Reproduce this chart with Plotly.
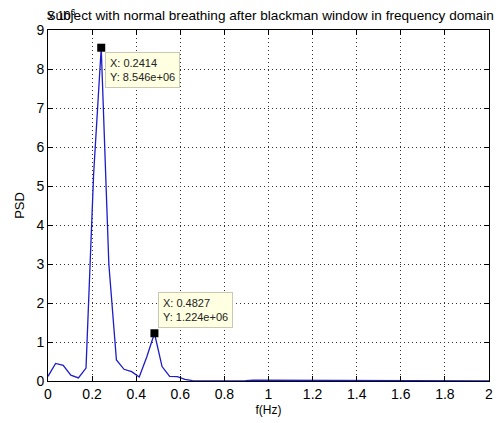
import plotly.graph_objects as go

# frequency axis: bins of width 1/29 Hz from 0 to 2 Hz
n_bins = 59
bin_width = 1 / 29
freq = [k * bin_width for k in range(n_bins)]

# PSD values (units of 1e6)
psd_millions = [
    0.12, 0.45, 0.40, 0.15, 0.08, 0.33, 5.30, 8.546, 3.00, 0.54,
    0.30, 0.24, 0.10, 0.62, 1.224, 0.37, 0.12, 0.11, 0.04, 0.012,
    0.005, 0.004, 0.004, 0.004, 0.004, 0.004, 0.006, 0.022, 0.022, 0.005,
    0.005, 0.022, 0.022, 0.005, 0.004, 0.004, 0.004, 0.004, 0.004, 0.004,
    0.004, 0.004, 0.004, 0.004, 0.004, 0.004, 0.004, 0.004, 0.004, 0.004,
    0.004, 0.004, 0.004, 0.004, 0.004, 0.004, 0.004, 0.004, 0.004,
]

# data tips
tip_x = [0.2414, 0.4827]
tip_y = [8.546, 1.224]
tip_labels = ["X: 0.2414<br>Y: 8.546e+06", "X: 0.4827<br>Y: 1.224e+06"]

x_ticks = [0, 0.2, 0.4, 0.6, 0.8, 1, 1.2, 1.4, 1.6, 1.8, 2]
x_tick_text = ["0", "0.2", "0.4", "0.6", "0.8", "1", "1.2", "1.4", "1.6", "1.8", "2"]
y_ticks = [0, 1, 2, 3, 4, 5, 6, 7, 8, 9]

FONT = "Liberation Sans, Arial, sans-serif"

fig = go.Figure()
fig.add_trace(go.Scatter(
    x=freq, y=psd_millions, mode="lines",
    line=dict(color="#1c1cc8", width=1.3),
    showlegend=False, hoverinfo="skip",
))
fig.add_trace(go.Scatter(
    x=tip_x, y=tip_y, mode="markers",
    marker=dict(symbol="square", size=8, color="black"),
    showlegend=False, hoverinfo="skip",
))

# datatip boxes
fig.add_annotation(
    x=tip_x[0], y=tip_y[0], xref="x", yref="y",
    text=tip_labels[0], showarrow=False, align="left",
    xanchor="left", yanchor="top", xshift=4, yshift=-4,
    font=dict(family=FONT, size=11, color="#222222"),
    bgcolor="#ffffe1", bordercolor="#c8c8b4", borderwidth=1, borderpad=4,
)
fig.add_annotation(
    x=tip_x[1], y=tip_y[1], xref="x", yref="y",
    text=tip_labels[1], showarrow=False, align="left",
    xanchor="left", yanchor="bottom", xshift=4, yshift=5,
    font=dict(family=FONT, size=11, color="#222222"),
    bgcolor="#ffffe1", bordercolor="#c8c8b4", borderwidth=1, borderpad=4,
)

# exponent label
fig.add_annotation(
    x=0, y=1, xref="paper", yref="paper",
    text="x 10<sup>6</sup>", showarrow=False,
    xanchor="left", yanchor="bottom", xshift=-2, yshift=5,
    font=dict(family=FONT, size=12, color="black"),
)

axis_common = dict(
    showline=True, linecolor="black", linewidth=1, mirror="ticks",
    ticks="inside", ticklen=5, tickcolor="black",
    showgrid=True, gridcolor="#303030", gridwidth=1, griddash="1px,3px",
    zeroline=False,
    tickfont=dict(family=FONT, size=14, color="black"),
)

fig.update_layout(
    width=502, height=423,
    margin=dict(l=48, r=9, t=30, b=40),
    paper_bgcolor="white", plot_bgcolor="white",
    title=dict(
        text="Subject with normal breathing after blackman window in frequency domain",
        x=0.538, xanchor="center", y=0.965, yanchor="middle",
        font=dict(family=FONT, size=13.6, color="black"),
    ),
    xaxis=dict(
        range=[0, 2], tickvals=x_ticks, ticktext=x_tick_text,
        title=dict(text="f(Hz)", font=dict(family=FONT, size=12, color="black"), standoff=4),
        **axis_common,
    ),
    yaxis=dict(
        range=[0, 9], tickvals=y_ticks,
        title=dict(text="PSD", font=dict(family=FONT, size=13, color="black"), standoff=8),
        **axis_common,
    ),
)

fig.write_html("out.html")
